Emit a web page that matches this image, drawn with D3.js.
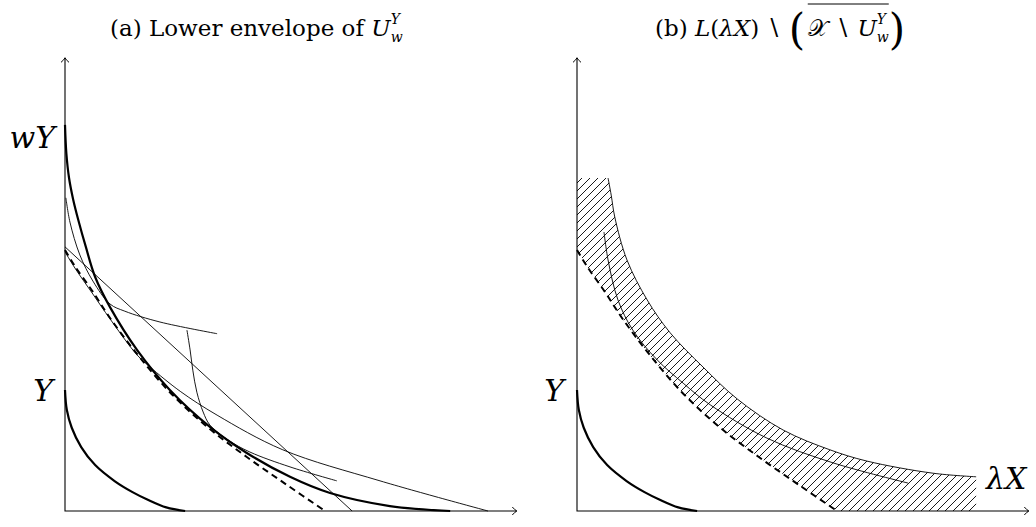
<!DOCTYPE html>
<html>
<head>
<meta charset="utf-8">
<script src="https://cdn.jsdelivr.net/npm/d3@7"></script>
<style>
  body { margin: 0; background: #fff; }
  svg { display: block; }
  text { font-family: "DejaVu Serif", "Liberation Serif", serif; fill: #000; white-space: pre; }
</style>
</head>
<body>
<svg id="fig" width="1036" height="527"></svg>
<script>
// all curves in axis units, both axes run from 0 to about 10
const smallY = [[0,2.69],[0.04,2.25],[0.15,1.85],[0.36,1.42],[0.67,1.02],[1.11,0.66],[1.5,0.42],[1.84,0.25],[2.25,0.08],[2.67,0]];
const bigWY = [[0,8.58],[0.03,7.95],[0.09,7.4],[0.18,6.93],[0.3,6.45],[0.46,5.88],[0.67,5.2],[1.0,4.53],[1.6,3.58],[2.33,2.69],[3.22,1.87],[4.04,1.29],[5.0,0.76],[5.89,0.4],[7.22,0.11],[8.56,0]];
const envelope = [[0,5.8],[0.22,5.44],[0.62,4.87],[1.0,4.29],[1.6,3.49],[2.33,2.64],[3.16,1.87],[4.04,1.2],[4.93,0.58],[5.78,0]];
const lineA = [[0,5.87],[6.38,0]];
const curveB = [[0.02,6.96],[0.11,6.42],[0.33,5.69],[0.62,5.11],[1.0,4.6],[1.33,4.44],[2.11,4.2],[3.38,3.94]];
const curveC = [[2.71,4.02],[2.78,3.58],[2.84,3.13],[2.93,2.64],[3.07,2.2],[3.22,1.91],[3.62,1.58],[4.11,1.31],[5.0,0.98],[6.04,0.67]];
const curveD = [[0,5.76],[0.22,5.4],[0.62,4.82],[1.0,4.27],[1.6,3.47],[1.89,3.2],[2.56,2.66],[3.38,2.13],[4.84,1.36],[7.0,0.67],[9.4,0]];
const hatchTop = [[0.69,7.4],[0.76,7.02],[0.84,6.53],[1.11,5.58],[1.56,4.69],[2.07,3.96],[2.8,3.2],[3.56,2.49],[4.58,1.8],[5.62,1.36],[6.44,1.11],[7.91,0.84],[8.87,0.76]];
const hatchLeftTop = 7.4;
const innerCurve = [[0.6,6.2],[0.69,5.58],[0.91,4.69],[1.24,4.02],[1.78,3.36],[2.36,2.84],[2.96,2.36],[4.22,1.62],[5.69,1.07],[7.36,0.62]];
const axisEnd = [10.04, 10.07];

const svg = d3.select("#fig");

const defs = svg.append("defs");
defs.append("pattern")
    .attr("id", "hatch")
    .attr("patternUnits", "userSpaceOnUse")
    .attr("width", 8).attr("height", 8)
    .append("path")
    .attr("d", "M-2,2 L2,-2 M0,8 L8,0 M6,10 L10,6")
    .attr("stroke", "#000").attr("stroke-width", 0.9);

function makePanel(ox) {
    const x = d3.scaleLinear().domain([0, 10]).range([ox, ox + 450]);
    const y = d3.scaleLinear().domain([0, 10]).range([511, 61]);
    const line = d3.line().x(d => x(d[0])).y(d => y(d[1])).curve(d3.curveCatmullRom.alpha(0.5));
    return { x, y, line, g: svg.append("g") };
}

function drawAxes(p) {
    const x0 = p.x(0), y0 = p.y(0), xe = p.x(axisEnd[0]), ye = p.y(axisEnd[1]);
    p.g.append("path")
        .attr("d", `M${x0},${ye} L${x0},${y0} L${xe},${y0}`)
        .attr("fill", "none").attr("stroke", "#000").attr("stroke-width", 1.1);
    // tikz style open arrow tips
    p.g.append("path")
        .attr("d", `M${xe - 4.5},${y0 - 4} Q${xe - 1.5},${y0 - 0.6} ${xe},${y0} Q${xe - 1.5},${y0 + 0.6} ${xe - 4.5},${y0 + 4}`)
        .attr("fill", "none").attr("stroke", "#000").attr("stroke-width", 1);
    p.g.append("path")
        .attr("d", `M${x0 - 4},${ye + 4.5} Q${x0 - 0.6},${ye + 1.5} ${x0},${ye} Q${x0 + 0.6},${ye + 1.5} ${x0 + 4},${ye + 4.5}`)
        .attr("fill", "none").attr("stroke", "#000").attr("stroke-width", 1);
}

function curve(p, data, width, dash) {
    const path = p.g.append("path")
        .attr("d", p.line(data))
        .attr("fill", "none").attr("stroke", "#000")
        .attr("stroke-width", width);
    if (dash) path.attr("stroke-dasharray", dash);
    return path;
}

function label(x, y, s, size) {
    return svg.append("text").attr("x", x).attr("y", y)
        .style("font-size", size + "px").style("font-style", "italic").text(s);
}

// lays out a row of text pieces, returns them with their extents
function mathText(x, y, parts) {
    let cx = x, pending = 0;
    parts.forEach(p => {
        const t = svg.append("text")
            .attr("x", cx).attr("y", y + (p.dy || 0))
            .style("font-size", (p.size || 23) + "px")
            .style("font-style", p.it ? "italic" : "normal")
            .text(p.s);
        const w = t.node().getComputedTextLength();
        p.x0 = cx; p.x1 = cx + w;
        if (p.keep) { pending = w; }
        else { cx += Math.max(w, pending); pending = 0; }
    });
    return parts;
}

// (a) left panel
const left = makePanel(65);
drawAxes(left);
curve(left, smallY, 2.2);
curve(left, bigWY, 2.2);
curve(left, lineA, 0.9);
curve(left, curveB, 0.9);
curve(left, curveC, 0.9);
curve(left, curveD, 0.9);
curve(left, envelope, 2, "6.5,4.5");
label(55, 148, "wY", 30).attr("text-anchor", "end");
label(53, 401, "Y", 30).attr("text-anchor", "end");

// (b) right panel
const right = makePanel(577);
const r = right;
const topPath = r.line(hatchTop);
const envBack = r.line(envelope.slice().reverse()).replace(/^M/, "L");
const last = hatchTop[hatchTop.length - 1];
r.g.append("path")
    .attr("d", `${topPath} L${r.x(last[0])},${r.y(0)} ${envBack} L${r.x(0)},${r.y(hatchLeftTop)} Z`)
    .attr("fill", "url(#hatch)").attr("stroke", "none");
drawAxes(right);
curve(right, smallY, 2.2);
curve(right, hatchTop, 0.9);
curve(right, innerCurve, 0.9);
curve(right, envelope, 2, "6.5,4.5");
label(564, 401, "Y", 30).attr("text-anchor", "end");
label(986, 489, "λX", 30);

// titles
mathText(110, 36, [
    { s: "(a) Lower envelope of " },
    { s: "U", it: true },
    { s: "Y", it: true, size: 14, dy: -12, keep: true },
    { s: "w", it: true, size: 14, dy: 6 }
]);

const tb = mathText(655, 36, [
    { s: "(b) " },
    { s: "L", it: true },
    { s: "(" },
    { s: "λX", it: true },
    { s: ") ∖ " },
    { s: "(", size: 42, dy: 8 },
    { s: " ", size: 8 },
    { s: "𝒳" },
    { s: " ∖ " },
    { s: "U", it: true },
    { s: "Y", it: true, size: 14, dy: -12, keep: true },
    { s: "w", it: true, size: 14, dy: 6 },
    { s: ")", size: 42, dy: 8 }
]);
svg.append("line")
    .attr("x1", tb[7].x0).attr("x2", tb[11].x1)
    .attr("y1", 4).attr("y2", 4)
    .attr("stroke", "#000").attr("stroke-width", 1);
</script>
</body>
</html>
